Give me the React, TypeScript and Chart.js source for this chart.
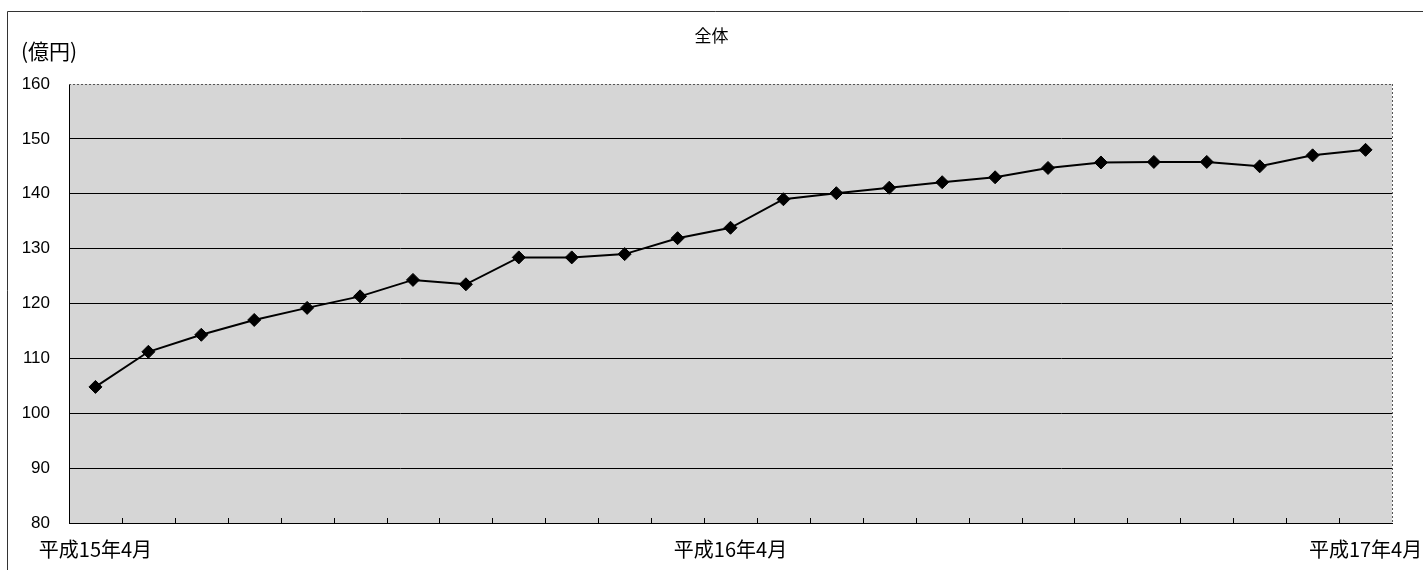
import React, { useEffect, useRef } from "react";
import { Chart, registerables } from "chart.js";

Chart.register(...registerables);

const months: string[] = [
  "平成15年4月", "平成15年5月", "平成15年6月", "平成15年7月", "平成15年8月",
  "平成15年9月", "平成15年10月", "平成15年11月", "平成15年12月", "平成16年1月",
  "平成16年2月", "平成16年3月", "平成16年4月", "平成16年5月", "平成16年6月",
  "平成16年7月", "平成16年8月", "平成16年9月", "平成16年10月", "平成16年11月",
  "平成16年12月", "平成17年1月", "平成17年2月", "平成17年3月", "平成17年4月",
];

const totals: number[] = [
  104.8, 111.2, 114.3, 117.0, 119.2, 121.3, 124.3, 123.5, 128.4, 128.4,
  129.0, 131.9, 133.8, 139.0, 140.1, 141.1, 142.1, 143.0, 144.7, 145.7,
  145.8, 145.8, 145.0, 147.0, 148.0,
];

const shownLabels: string[] = ["平成15年4月", "平成16年4月", "平成17年4月"];
const yMin = 80;
const yMax = 160;
const yStep = 10;
const titleText = "全体";
const unitText = "(億円)";

const FONT = "'Liberation Sans', 'Noto Sans CJK JP', sans-serif";
const CJK = "'Noto Sans CJK JP', 'Liberation Sans', sans-serif";

const decorPlugin = {
  id: "decor",
  beforeDraw(chart: any) {
    const { ctx, chartArea, width, height } = chart;
    ctx.save();
    ctx.fillStyle = "#ffffff";
    ctx.fillRect(0, 0, width, height);
    // outer frame
    ctx.strokeStyle = "#333333";
    ctx.lineWidth = 1;
    ctx.beginPath();
    ctx.moveTo(7.5, height);
    ctx.lineTo(7.5, 11.5);
    ctx.lineTo(width, 11.5);
    ctx.stroke();
    // plot background
    ctx.fillStyle = "#d6d6d6";
    ctx.fillRect(chartArea.left, chartArea.top, chartArea.right - chartArea.left, chartArea.bottom - chartArea.top);
    ctx.restore();
  },
  beforeDatasetsDraw(chart: any) {
    const { ctx, chartArea } = chart;
    const xs = chart.scales.x;
    ctx.save();
    // dotted top & right border of plot
    ctx.strokeStyle = "#555555";
    ctx.lineWidth = 1;
    ctx.setLineDash([2, 2]);
    ctx.beginPath();
    ctx.moveTo(chartArea.left, Math.round(chartArea.top) + 0.5);
    ctx.lineTo(chartArea.right, Math.round(chartArea.top) + 0.5);
    ctx.moveTo(Math.round(chartArea.right) + 0.5, chartArea.top);
    ctx.lineTo(Math.round(chartArea.right) + 0.5, chartArea.bottom);
    ctx.stroke();
    ctx.setLineDash([]);
    // inward tick marks at category boundaries
    ctx.strokeStyle = "#000000";
    ctx.beginPath();
    for (let i = 0; i < months.length - 1; i++) {
      const x = Math.round((xs.getPixelForValue(i) + xs.getPixelForValue(i + 1)) / 2) + 0.5;
      ctx.moveTo(x, chartArea.bottom);
      ctx.lineTo(x, chartArea.bottom - 5);
    }
    ctx.stroke();
    ctx.restore();
  },
  afterDraw(chart: any) {
    const { ctx, width } = chart;
    ctx.save();
    ctx.fillStyle = "#000000";
    ctx.textBaseline = "middle";
    ctx.font = `17px ${CJK}`;
    ctx.textAlign = "center";
    ctx.fillText(titleText, width / 2, 36);
    ctx.font = `21px ${CJK}`;
    ctx.textAlign = "left";
    ctx.fillText(unitText, 21, 51);
    ctx.restore();
  },
};

export default function App() {
  const canvasRef = useRef<HTMLCanvasElement | null>(null);

  useEffect(() => {
    const canvas = canvasRef.current;
    if (!canvas) return;
    const chart = new Chart(canvas, {
      type: "line",
      data: {
        labels: months,
        datasets: [
          {
            label: titleText,
            data: totals,
            borderColor: "#000000",
            borderWidth: 2,
            pointStyle: "rectRot",
            pointRadius: 6.5,
            pointBackgroundColor: "#000000",
            pointBorderColor: "#000000",
            pointBorderWidth: 1,
            tension: 0,
            fill: false,
            clip: false as any,
          },
        ],
      },
      options: {
        animation: false,
        responsive: false,
        devicePixelRatio: 1,
        layout: { padding: { top: 84, right: 31, left: 0, bottom: 0 } },
        plugins: {
          legend: { display: false },
          title: { display: false },
          tooltip: { enabled: false },
        },
        scales: {
          x: {
            type: "category",
            offset: true,
            afterFit: (scale: any) => {
              scale.height = 47;
              scale.paddingLeft = 0;
              scale.paddingRight = 0;
            },
            grid: { display: true, drawOnChartArea: false, drawTicks: false },
            border: { display: true, color: "#000000", width: 1 },
            ticks: {
              autoSkip: false,
              maxRotation: 0,
              minRotation: 0,
              padding: 14,
              color: "#000000",
              font: { family: CJK, size: 20 },
              callback: (_v: any, idx: number) =>
                shownLabels.includes(months[idx]) ? months[idx] : "",
            },
          },
          y: {
            min: yMin,
            max: yMax,
            afterFit: (scale: any) => {
              scale.width = 69;
              scale.paddingTop = 0;
              scale.paddingBottom = 0;
            },
            grid: {
              drawTicks: false,
              color: (c: any) => (c.tick && c.tick.value === yMax ? "rgba(0,0,0,0)" : "#000000"),
              lineWidth: 1,
            },
            border: { display: true, color: "#000000", width: 1 },
            ticks: {
              stepSize: yStep,
              padding: 19,
              color: "#000000",
              font: { family: FONT, size: 17 },
            },
          },
        },
      },
      plugins: [decorPlugin],
    });
    return () => chart.destroy();
  }, []);

  return (
    <div style={{ position: "fixed", left: 0, top: 0, width: 1423, height: 570, background: "#fff" }}>
      <canvas ref={canvasRef} width={1423} height={570} style={{ display: "block", width: 1423, height: 570 }} />
    </div>
  );
}
